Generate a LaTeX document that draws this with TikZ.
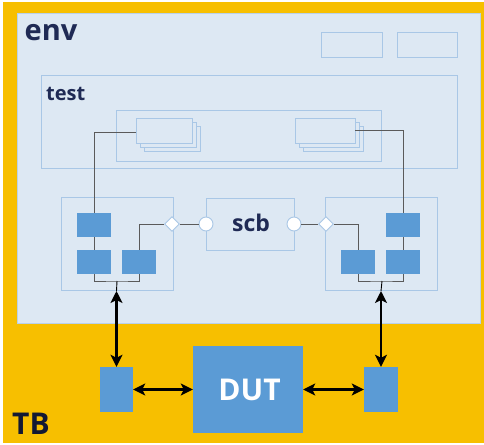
\documentclass[tikz,border=0pt]{standalone}
\usepackage{fontspec}
\setmainfont{Open Sans}
\usetikzlibrary{arrows.meta,shapes.geometric}
\definecolor{tbor}{HTML}{F7BF00}
\definecolor{envbg}{HTML}{DDE8F3}
\definecolor{boxln}{HTML}{A9C7E6}
\definecolor{blk}{HTML}{5B9BD5}
\definecolor{navy}{HTML}{1F2A55}
\definecolor{wire}{HTML}{5A5A5A}
\tikzset{
  frame/.style={draw=boxln, line width=0.9pt},
  blkbox/.style={fill=blk, draw=none},
  wireln/.style={draw=wire, line width=0.9pt},
  dbl/.style={line width=2.5pt, {Stealth[length=12pt,width=12pt,inset=3pt]}-{Stealth[length=12pt,width=12pt,inset=3pt]}},
  lbl/.style={font=\bfseries, text=navy, inner sep=0pt},
  port/.style={circle, fill=white, draw=boxln, line width=0.9pt, minimum size=14pt, inner sep=0pt},
  conn/.style={diamond, fill=white, draw=boxln, line width=0.9pt, minimum size=15pt, inner sep=0pt, aspect=1},
}
\begin{document}
\begin{tikzpicture}[x=1pt,y=-1pt]
\useasboundingbox (0,0) rectangle (484,444);
\fill[white] (0,0) rectangle (484,444);
% TB
\fill[tbor] (3,2) rectangle (484,443);
\node[anchor=base west, font=\bfseries\fontsize{30}{30}\selectfont, text=navy!60!black, inner sep=0pt] (tb) at (12,434) {TB};
% env
\filldraw[fill=envbg, draw=boxln!70!envbg, line width=0.8pt] (17,13) rectangle (480,323);
\node[lbl, anchor=base west, font=\bfseries\fontsize{29}{29}\selectfont] (env) at (24.5,41) {env};
\draw[frame] (321,32) rectangle (382,57);
\draw[frame] (397,32) rectangle (457,57);
% test
\draw[frame] (41,75) rectangle (457,168);
\node[lbl, anchor=base west, font=\bfseries\fontsize{20}{20}\selectfont] (test) at (46,100) {test};
\draw[frame] (116,110) rectangle (381,161);
% sequence stacks
\foreach \dx in {8,4,0}{
  \filldraw[fill=envbg, draw=boxln, line width=0.9pt] (136+\dx,118+\dx) rectangle (192+\dx,143+\dx);
  \filldraw[fill=envbg, draw=boxln, line width=0.9pt] (295+\dx,118+\dx) rectangle (355+\dx,143+\dx);
}
\coordinate (seqL) at (136,132);
\coordinate (seqR) at (355,130);
% agents
\draw[frame] (61,197) rectangle (173,290);
\draw[frame] (325,197) rectangle (437,290);
% scb
\draw[frame] (206,198) rectangle (294,250);
\node[lbl, anchor=base, font=\bfseries\fontsize{23}{23}\selectfont] (scb) at (251,231) {scb};
% blocks left
\node[blkbox, minimum width=34pt, minimum height=24pt, inner sep=0pt] (l1) at (94,225) {};
\node[blkbox, minimum width=34pt, minimum height=24pt, inner sep=0pt] (l2) at (94,262) {};
\node[blkbox, minimum width=34pt, minimum height=24pt, inner sep=0pt] (l3) at (139,262) {};
% blocks right
\node[blkbox, minimum width=34pt, minimum height=24pt, inner sep=0pt] (r1) at (403,225) {};
\node[blkbox, minimum width=34pt, minimum height=24pt, inner sep=0pt] (r2) at (403,262) {};
\node[blkbox, minimum width=34pt, minimum height=24pt, inner sep=0pt] (r3) at (358,262) {};
% wires
\draw[wireln] (seqL) -| (l1.north);
\draw[wireln] (l1.south) -- (l2.north);
\coordinate (jl) at (117,281);
\draw[wireln] (l2.south) |- (jl) -| (l3.south);
\draw[wireln] (seqR) -| (r1.north);
\draw[wireln] (r1.south) -- (r2.north);
\coordinate (jr) at (382,281);
\draw[wireln] (r3.south) |- (jr) -| (r2.south);
% ports
\node[conn] (dl) at (172,224) {};
\node[port] (pl) at (206,224) {};
\node[port] (pr) at (294,224) {};
\node[conn] (dr) at (326,224) {};
\draw[wireln] (l3.north) |- (dl.west);
\draw[wireln] (dl.east) -- (pl.west);
\draw[wireln] (pr.east) -- (dr.west);
\draw[wireln] (dr.east) -| (r3.north);
% DUT and interfaces
\node[fill=blk, minimum width=110pt, minimum height=87pt, inner sep=0pt] (dut) at (248,389.5) {};
\node[anchor=base, text=white, font=\bfseries\fontsize{30}{30}\selectfont, inner sep=0pt] (dutl) at (249.5,400) {DUT};
\node[blkbox, minimum width=33pt, minimum height=45pt, inner sep=0pt] (ifl) at (116.5,389.5) {};
\node[blkbox, minimum width=34pt, minimum height=45pt, inner sep=0pt] (ifr) at (381,389.5) {};
\coordinate (al) at (116.5,291);
\coordinate (ar) at (381,291);
\draw[line width=0.9pt] (jl) -- (al);
\draw[line width=0.9pt] (jr) -- (ar);
\draw[dbl] (al) -- (ifl.north);
\draw[dbl] (ar) -- (ifr.north);
\draw[dbl] (ifl.east) -- (dut.west);
\draw[dbl] (dut.east) -- (ifr.west);
\end{tikzpicture}
\end{document}
